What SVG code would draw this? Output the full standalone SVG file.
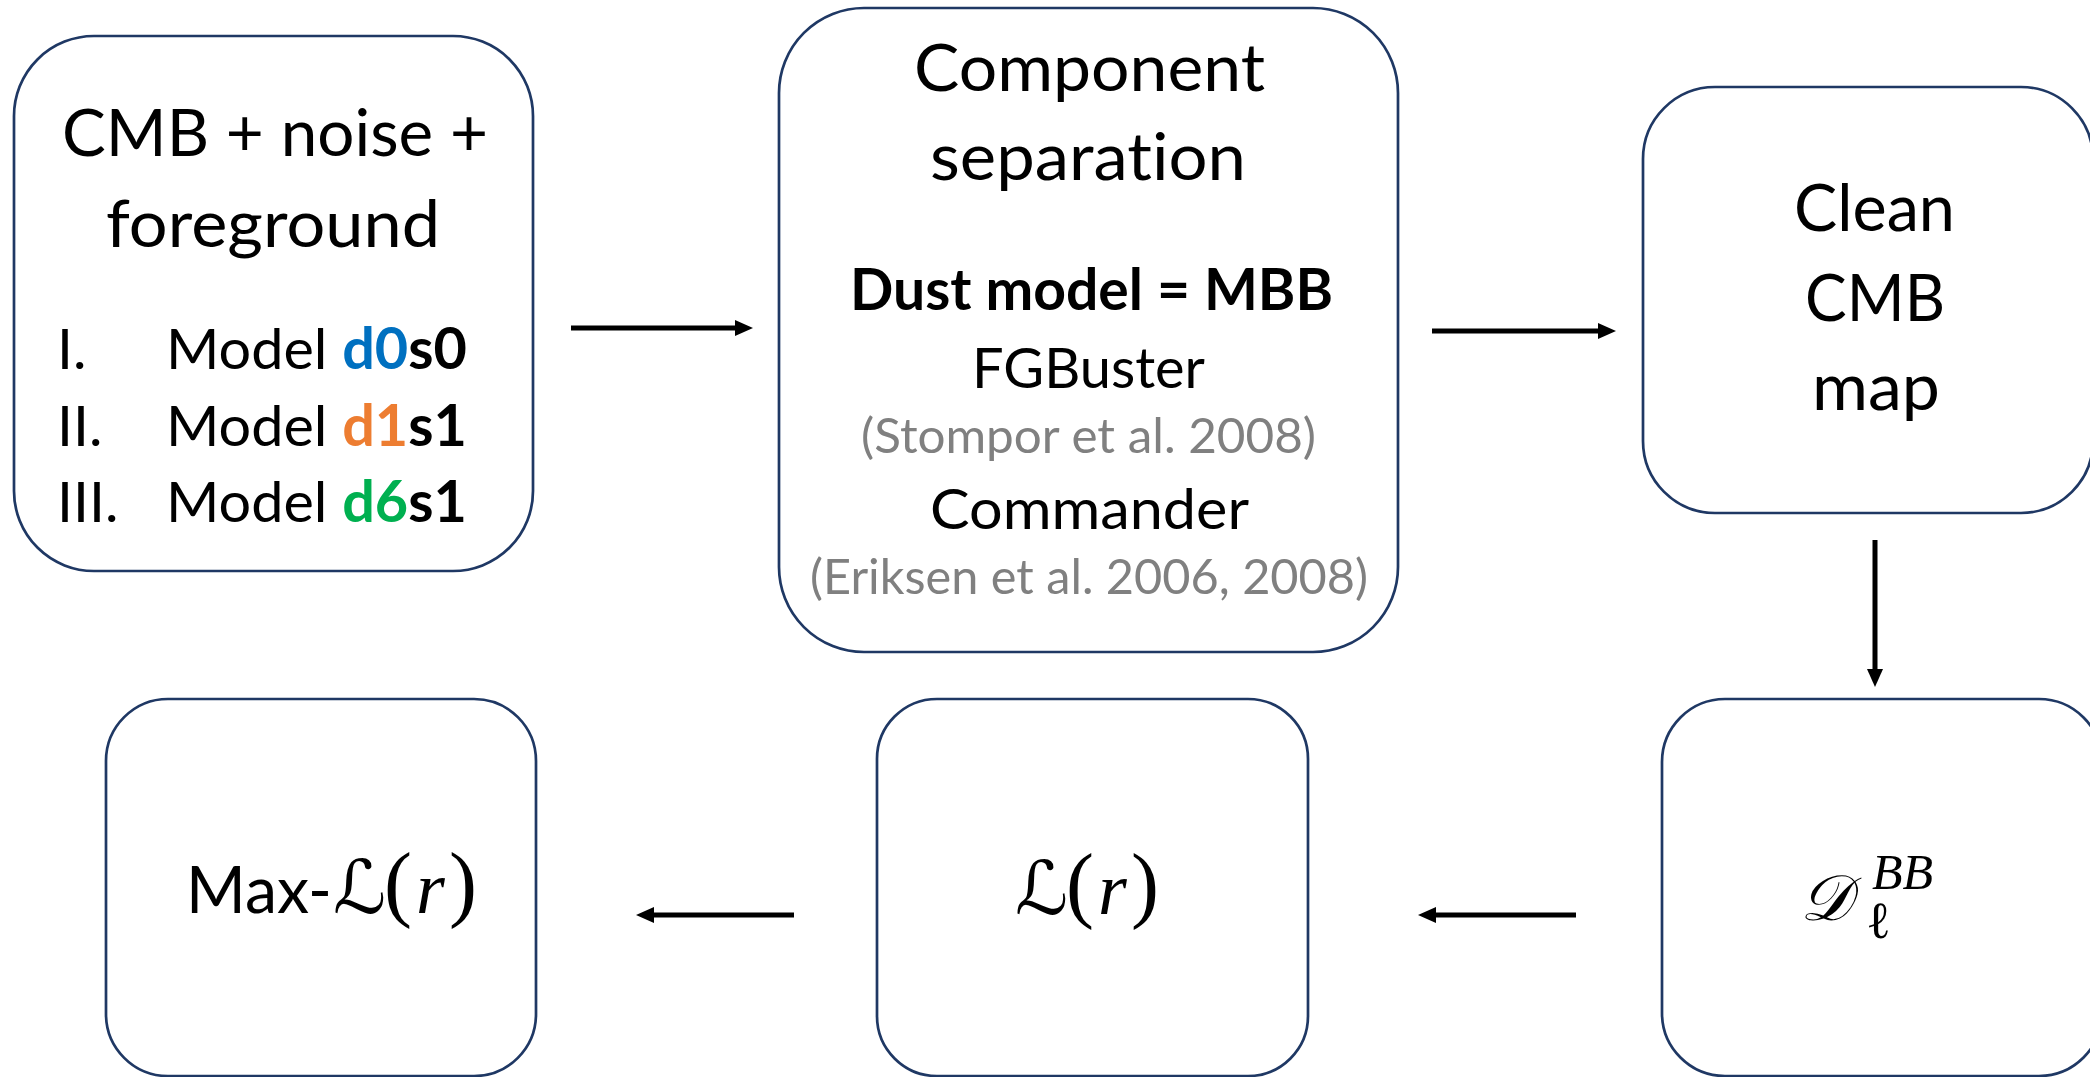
<svg xmlns="http://www.w3.org/2000/svg" width="2090" height="1077" viewBox="0 0 2090 1077">
<style>
.box{fill:#ffffff;stroke:#1f3864;stroke-width:2.7}
.t{font-family:Lato,"Open Sans","Liberation Sans",sans-serif;fill:#000;font-variant-ligatures:none;font-feature-settings:"liga" 0,"clig" 0}
.h{font-size:66px}
.b{font-size:57px}
.g{font-size:48px;fill:#808080}
.bold{font-weight:bold}
.m{font-family:"Liberation Serif","DejaVu Serif",serif;font-size:74px;fill:#000}
.sc{font-family:"DejaVu Serif","DejaVu Sans",serif}
.it{font-style:italic}
.p{font-size:84px}
.conn{stroke:#000;stroke-width:5;fill:none;marker-end:url(#ah)}
</style>
<defs>
<marker id="ah" markerUnits="userSpaceOnUse" markerWidth="20" markerHeight="18" refX="0" refY="8" orient="auto">
<path d="M0,0 L18,8 L0,16 z" fill="#000"/>
</marker>
</defs>
<rect width="2090" height="1077" fill="#fff"/>

<g id="node-input">
<rect class="box" x="14" y="36" width="519" height="535" rx="80" ry="80"/>
<text class="t h" x="62" y="156" textLength="426" lengthAdjust="spacingAndGlyphs">CMB + noise +</text>
<text class="t h" x="106" y="247" textLength="334" lengthAdjust="spacingAndGlyphs">foreground</text>
<text class="t b" x="57" y="369">I.</text>
<text class="t b" x="166" y="369" textLength="301" lengthAdjust="spacingAndGlyphs">Model <tspan class="bold" fill="#0070c0">d0</tspan><tspan class="bold">s0</tspan></text>
<text class="t b" x="57" y="446">II.</text>
<text class="t b" x="166" y="446" textLength="301" lengthAdjust="spacingAndGlyphs">Model <tspan class="bold" fill="#ed7d31">d1</tspan><tspan class="bold">s1</tspan></text>
<text class="t b" x="57" y="522">III.</text>
<text class="t b" x="166" y="522" textLength="301" lengthAdjust="spacingAndGlyphs">Model <tspan class="bold" fill="#00b050">d6</tspan><tspan class="bold">s1</tspan></text>
</g>

<g id="node-compsep">
<rect class="box" x="779" y="8" width="619" height="644" rx="85" ry="85"/>
<text class="t h" x="914" y="91" textLength="351" lengthAdjust="spacingAndGlyphs">Component</text>
<text class="t h" x="930" y="180" textLength="316" lengthAdjust="spacingAndGlyphs">separation</text>
<text class="t b bold" x="850" y="310" textLength="483" lengthAdjust="spacingAndGlyphs">Dust model = MBB</text>
<text class="t b" x="972" y="388" textLength="233" lengthAdjust="spacingAndGlyphs">FGBuster</text>
<text class="t g" x="861" y="453" textLength="455" lengthAdjust="spacingAndGlyphs">(Stompor et al. 2008)</text>
<text class="t b" x="930" y="529" textLength="319" lengthAdjust="spacingAndGlyphs">Commander</text>
<text class="t g" x="810" y="594" textLength="558" lengthAdjust="spacingAndGlyphs">(Eriksen et al. 2006, 2008)</text>
</g>

<g id="node-clean">
<rect class="box" x="1643" y="87" width="450" height="426" rx="72" ry="72"/>
<text class="t h" x="1794" y="231" textLength="161" lengthAdjust="spacingAndGlyphs">Clean</text>
<text class="t h" x="1805" y="321" textLength="140" lengthAdjust="spacingAndGlyphs">CMB</text>
<text class="t h" x="1812" y="410" textLength="128" lengthAdjust="spacingAndGlyphs">map</text>
</g>

<g id="node-spectrum">
<rect class="box" x="1662" y="699" width="440" height="377" rx="63" ry="63"/>
<text class="m"><tspan class="sc it" x="1800" y="920" font-size="64">𝒟</tspan><tspan class="it" x="1872" y="889" font-size="50">BB</tspan><tspan x="1866" y="938" font-size="52">ℓ</tspan></text>
</g>

<g id="node-like">
<rect class="box" x="877" y="699" width="431" height="377" rx="60" ry="60"/>
<text class="m"><tspan class="sc" x="1015" y="914">ℒ</tspan><tspan class="p" x="1066" y="912">(</tspan><tspan class="it" x="1098" y="914">r</tspan><tspan class="p" x="1131" y="912">)</tspan></text>
</g>

<g id="node-max">
<rect class="box" x="106" y="699" width="430" height="377" rx="62" ry="62"/>
<text class="t h" x="186" y="913" textLength="146" lengthAdjust="spacingAndGlyphs">Max-</text>
<text class="m"><tspan class="sc" x="333" y="913">ℒ</tspan><tspan class="p" x="384" y="911">(</tspan><tspan class="it" x="416" y="913">r</tspan><tspan class="p" x="449" y="911">)</tspan></text>
</g>

<g id="connectors">
<path class="conn" d="M571,328 L735,328"/>
<path class="conn" d="M1432,331 L1598,331"/>
<path class="conn" d="M1875,540 L1875,669"/>
<path class="conn" d="M1576,915 L1436,915"/>
<path class="conn" d="M794,915 L654,915"/>
</g>
</svg>
